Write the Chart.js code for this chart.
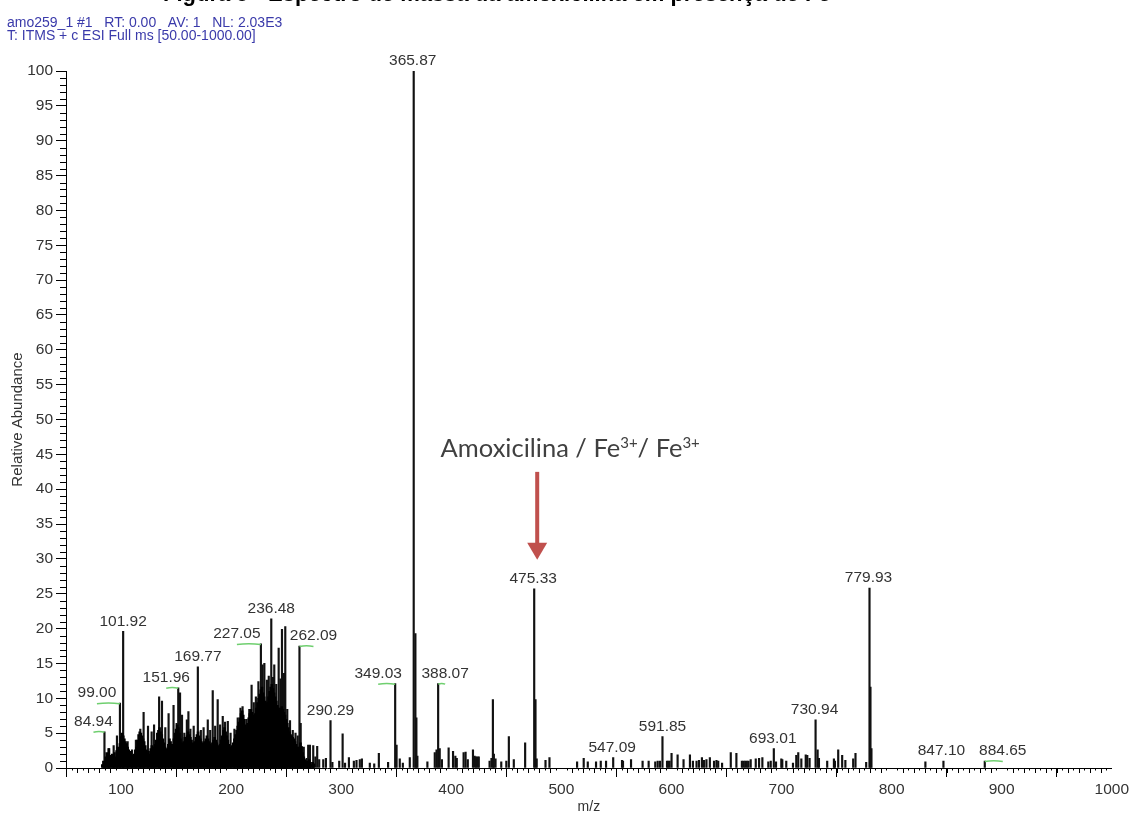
<!DOCTYPE html>
<html>
<head>
<meta charset="utf-8">
<title>amo259_1 - Full ms</title>
<script src="https://cdn.jsdelivr.net/npm/chart.js@4.4.1/dist/chart.umd.min.js"></script>
<style>
  html, body { margin: 0; padding: 0; background: #fff; }
  canvas { display: block; }
</style>
</head>
<body>
<canvas id="ms" width="1132" height="817"></canvas>
<script>
// ---- Spectrum data (m/z, relative abundance %) ----
// Unresolved baseline cluster, one value per nominal mass
const envelopeMz = [
  83,84,85,86,87,88,89,90,91,92,
  93,94,95,96,97,98,99,100,101,102,
  103,104,105,106,107,108,109,110,111,112,
  113,114,115,116,117,118,119,120,121,122,
  123,124,125,126,127,128,129,130,131,132,
  133,134,135,136,137,138,139,140,141,142,
  143,144,145,146,147,148,149,150,151,152,
  153,154,155,156,157,158,159,160,161,162,
  163,164,165,166,167,168,169,170,171,172,
  173,174,175,176,177,178,179,180,181,182,
  183,184,185,186,187,188,189,190,191,192,
  193,194,195,196,197,198,199,200,201,202,
  203,204,205,206,207,208,209,210,211,212,
  213,214,215,216,217,218,219,220,221,222,
  223,224,225,226,227,228,229,230,231,232,
  233,234,235,236,237,238,239,240,241,242,
  243,244,245,246,247,248,249,250,251,252,
  253,254,255,256,257,258,259,260,261,262,
  263,264,265,266,267,268,269,270,271,272,
  273,274,275
];
const envelopeAb = [
  0.5,1.0,0.8,1.6,2.2,1.0,2.8,1.8,1.5,2.0,
  1.4,2.2,1.6,2.5,3.0,2.4,3.5,4.5,5.0,4.6,
  4.2,3.8,3.5,3.0,2.6,2.0,2.4,1.8,1.5,2.0,
  2.6,3.0,4.0,4.8,5.2,5.0,4.6,4.2,3.8,3.2,
  2.6,2.0,2.4,2.0,2.8,3.2,3.0,2.6,3.4,4.0,
  5.0,5.4,5.8,5.2,4.8,4.2,3.6,3.0,2.4,2.8,
  3.4,4.2,3.8,3.4,3.0,4.2,5.0,5.6,6.2,5.8,
  5.0,4.2,3.6,3.4,3.8,4.4,4.0,4.6,5.2,4.8,
  4.4,4.0,3.6,3.4,3.8,4.4,4.8,5.2,4.6,4.2,
  3.8,3.6,3.4,3.8,4.2,4.6,4.2,3.8,3.4,3.2,
  3.6,4.0,4.4,4.0,3.6,3.2,3.0,3.4,4.0,4.6,
  5.4,5.8,5.2,4.6,4.0,3.4,3.0,2.8,3.2,3.6,
  4.2,4.8,5.4,6.0,6.6,7.2,7.8,8.2,7.6,7.0,
  6.2,5.8,6.4,7.2,7.8,8.4,8.0,7.6,7.4,7.8,
  8.6,9.4,10.0,10.6,11.2,11.6,10.8,10.2,9.6,9.0,
  9.4,10.2,11.0,11.6,12.0,11.4,10.8,10.2,9.6,9.0,
  8.6,8.2,8.6,8.8,8.4,8.0,7.6,7.0,6.4,5.8,
  5.2,4.8,4.6,4.4,4.2,3.8,3.4,3.0,2.6,3.0,
  3.6,3.0,2.2,1.6,1.2,0.9,1.0,0.6,1.2,0.8,
  0.5,0.8,0.6
];

// Individual centroided peaks
const peakMz = [
  84.94, 88.8, 93.3, 96.3, 99.00, 101.92, 106.0, 110.0, 113.5, 117.5,
  120.5, 124.5, 127.8, 130.0, 134.6, 137.2, 140.2, 143.2, 147.7, 150.5,
  151.96, 153.6, 155.4, 157.5, 159.8, 161.2, 163.0, 166.0, 169.77, 172.5,
  175.0, 178.8, 181.0, 183.3, 185.5, 187.8, 190.0, 192.4, 194.5, 197.0,
  199.5, 203.0, 206.0, 208.5, 210.4, 214.0, 216.5, 218.6, 220.6, 222.5,
  224.8, 227.05, 228.6, 230.2, 232.5, 234.2, 236.48, 238.0, 239.2, 241.0,
  243.2, 244.8, 246.2, 248.0, 249.2, 251.0, 253.5, 256.0, 258.5, 260.5,
  262.09, 263.2, 264.1, 266.0, 268.6, 270.0, 271.6, 274.6, 276.5, 278.2,
  280.0, 283.7, 286.1, 290.29, 292.0, 298.2, 301.3, 303.5, 307.0, 311.5,
  313.9, 316.9, 318.8, 326.0, 330.0, 334.2, 342.6, 349.03, 350.3, 353.2,
  356.0, 362.3, 365.87, 367.4, 368.3, 369.2, 378.3, 385.0, 386.6, 388.07,
  389.5, 391.5, 397.6, 401.6, 403.7, 405.0, 411.2, 413.0, 415.0, 419.7,
  421.2, 422.5, 423.8, 425.0, 434.8, 436.5, 437.8, 438.7, 440.2, 445.4,
  450.0, 452.3, 456.8, 467.1, 475.33, 476.5, 477.6, 485.6, 489.2, 514.3,
  520.3, 524.0, 531.5, 535.8, 540.6, 547.09, 555.1, 556.0, 563.3, 573.8,
  579.3, 585.3, 587.5, 589.6, 591.85, 596.0, 597.2, 598.3, 600.1, 605.6,
  611.0, 616.8, 619.5, 622.8, 625.0, 627.7, 629.6, 631.8, 634.9, 638.7,
  640.9, 642.5, 646.0, 653.9, 659.0, 664.0, 665.5, 667.0, 668.5, 670.0,
  672.0, 676.6, 679.6, 682.6, 688.0, 690.2, 693.01, 695.0, 699.8, 700.7,
  704.3, 710.4, 713.4, 715.2, 718.0, 722.0, 723.4, 725.5, 730.94, 732.8,
  734.0, 741.5, 747.6, 748.5, 751.5, 755.1, 758.0, 765.1, 767.2, 776.9,
  779.93, 780.8, 781.7, 830.7, 847.10, 884.65
];
const peakAb = [
  5.2, 2.8, 3.2, 4.6, 9.3, 19.6, 3.8, 2.6, 4.0, 5.6,
  8.0, 6.0, 5.2, 6.2, 10.2, 9.6, 5.8, 7.8, 9.0, 6.4,
  11.5, 10.8, 7.6, 5.0, 6.9, 8.1, 5.6, 6.0, 14.5, 5.4,
  5.8, 6.9, 5.4, 11.1, 6.0, 9.8, 6.2, 7.4, 6.6, 6.7,
  5.0, 5.6, 7.2, 8.6, 8.8, 7.0, 8.4, 11.9, 9.4, 10.2,
  12.4, 17.8, 14.8, 15.0, 12.6, 13.2, 21.4, 13.0, 14.8, 12.0,
  17.2, 12.8, 19.9, 13.6, 20.3, 8.4, 6.8, 5.4, 5.0, 4.6,
  17.5, 6.4, 3.1, 3.0, 1.4, 3.3, 3.3, 3.2, 1.6, 3.1,
  1.2, 1.2, 1.4, 6.8, 0.8, 1.0, 4.9, 0.7, 1.5, 1.0,
  1.1, 1.2, 1.3, 0.7, 0.6, 2.1, 0.8, 12.1, 3.3, 1.3,
  0.7, 1.5, 100, 19.3, 7.2, 1.7, 0.9, 2.2, 2.6, 12.1,
  2.8, 1.2, 2.9, 2.4, 1.7, 1.4, 2.2, 2.3, 1.2, 2.6,
  1.7, 1.6, 1.6, 1.6, 1.0, 1.4, 9.8, 2.0, 1.3, 0.9,
  1.0, 4.5, 1.2, 3.6, 25.7, 9.8, 1.3, 1.1, 1.5, 0.9,
  1.4, 0.9, 0.9, 1.0, 1.0, 1.5, 1.1, 1.0, 1.2, 1.0,
  1.0, 0.9, 1.0, 1.0, 4.5, 1.0, 1.0, 1.0, 2.1, 1.9,
  1.2, 1.9, 1.0, 1.0, 1.1, 1.5, 1.1, 1.2, 1.5, 1.0,
  1.1, 1.0, 0.7, 2.2, 2.1, 1.0, 1.0, 1.0, 1.0, 1.0,
  1.2, 1.3, 1.4, 1.5, 0.9, 1.0, 2.8, 0.9, 1.3, 1.2,
  1.0, 0.7, 1.8, 2.2, 1.3, 1.9, 1.8, 1.4, 6.9, 2.6,
  1.4, 1.0, 1.3, 1.0, 2.6, 1.8, 1.1, 1.3, 2.1, 0.8,
  25.8, 11.6, 2.8, 0.9, 1.0, 1.0
];

// Peaks annotated with their m/z
const labelMz = [
  84.94, 99.00, 101.92, 151.96, 169.77, 227.05, 236.48, 262.09, 290.29, 349.03,
  365.87, 388.07, 475.33, 547.09, 591.85, 693.01, 730.94, 779.93, 847.10, 884.65
];

const xTickValues = [100, 200, 300, 400, 500, 600, 700, 800, 900, 1000];
const yMajorStep = 5;

const headerLines = [
  'amo259_1 #1   RT: 0.00   AV: 1   NL: 2.03E3',
  'T: ITMS + c ESI Full ms [50.00-1000.00]'
];
const figureTitle = 'Figura 5 - Espectro de massa da amoxicilina em presença de Fe';
const annotationParts = ['Amoxicilina / Fe', '3+', '/ Fe', '3+'];

// ---- Drawing helpers ----
const decor = {
  id: 'msDecor',
  afterDraw(chart, args, o) {
    const { ctx, chartArea: a, scales: { x, y } } = chart;
    ctx.save();

    // minor ticks on both axes
    ctx.strokeStyle = '#000';
    ctx.lineWidth = 1;
    ctx.beginPath();
    for (let v = 1; v < 100; v++) {
      if (v % yMajorStep === 0) continue;
      const py = Math.round(y.getPixelForValue(v)) + 0.5;
      ctx.moveTo(a.left - 6, py);
      ctx.lineTo(a.left, py);
    }
    for (let v = 55; v < 1000; v += 5) {
      if (v % 100 === 0) continue;
      const px = Math.round(x.getPixelForValue(v)) + 0.5;
      const len = v % 10 === 0 ? 5 : 2.5;
      ctx.moveTo(px, a.bottom);
      ctx.lineTo(px, a.bottom + len);
    }
    ctx.stroke();

    // scan header
    ctx.fillStyle = '#3a3aaa';
    ctx.font = '14px "Liberation Sans", Arial, sans-serif';
    ctx.textAlign = 'left';
    ctx.textBaseline = 'alphabetic';
    ctx.fillText(headerLines[0], 7, 26.5);
    ctx.fillText(headerLines[1], 7, 39.5);

    // figure caption running off the top edge
    ctx.fillStyle = '#000';
    ctx.font = 'bold 22px "Liberation Sans", Arial, sans-serif';
    ctx.fillText(figureTitle, 163, 1);

    // peak m/z labels
    ctx.font = '15.5px "Liberation Sans", Arial, sans-serif';
    ctx.textAlign = 'center';
    ctx.textBaseline = 'middle';
    labelMz.forEach((m, i) => {
      const idx = peakMz.indexOf(m);
      if (idx < 0) return;
      const px = x.getPixelForValue(m);
      const py = y.getPixelForValue(peakAb[idx]);
      const lx = px + (o.offsets[i] || 0);
      if (o.flagged.includes(m)) {
        ctx.strokeStyle = '#6fcf6f';
        ctx.lineWidth = 1.5;
        ctx.beginPath();
        ctx.moveTo(lx, py + 0.5);
        ctx.quadraticCurveTo((lx + px) / 2, py - 1, px, py + 0.5);
        ctx.stroke();
      }
      ctx.fillStyle = '#333';
      ctx.fillText(m.toFixed(2), lx, py - 10);
    });

    // annotation with arrow pointing at the complex peak
    const an = o.annotation;
    const tIdx = peakMz.indexOf(an.mz);
    const tx = x.getPixelForValue(an.mz);
    const ty = y.getPixelForValue(peakAb[tIdx]);
    const ax = tx + an.dx;
    const tip = ty - an.gap;
    const top = tip - an.length;
    ctx.fillStyle = '#c0504d';
    ctx.fillRect(ax - 2, top, 4, an.length - 16);
    ctx.beginPath();
    ctx.moveTo(ax - 10, tip - 17);
    ctx.lineTo(ax + 10, tip - 17);
    ctx.lineTo(ax, tip);
    ctx.closePath();
    ctx.fill();

    const big = '25.5px Lato, "Open Sans", sans-serif';
    const small = '15px Lato, "Open Sans", sans-serif';
    const widths = annotationParts.map((p, i) => {
      ctx.font = i % 2 ? small : big;
      return ctx.measureText(p).width;
    });
    const total = widths.reduce((s, w) => s + w, 0);
    let cx = ax + an.textDx - total / 2;
    const base = top - an.textGap;
    ctx.fillStyle = '#404040';
    ctx.textAlign = 'left';
    ctx.textBaseline = 'alphabetic';
    annotationParts.forEach((p, i) => {
      ctx.font = i % 2 ? small : big;
      ctx.fillText(p, cx, i % 2 ? base - 9 : base);
      cx += widths[i];
    });

    ctx.restore();
  }
};

const toPoints = (xs, ys) => xs.map((m, i) => ({ x: m, y: ys[i] }));
const tickFont = { family: '"Liberation Sans", Arial, sans-serif', size: 15.5 };

new Chart(document.getElementById('ms'), {
  type: 'bar',
  data: {
    datasets: [
      {
        label: 'cluster',
        data: toPoints(envelopeMz, envelopeAb),
        backgroundColor: '#000',
        borderWidth: 0,
        barThickness: 2,
        grouped: false
      },
      {
        label: 'peaks',
        data: toPoints(peakMz, peakAb),
        backgroundColor: '#111',
        borderWidth: 0,
        barThickness: 1.5,
        grouped: false
      }
    ]
  },
  options: {
    responsive: false,
    animation: false,
    devicePixelRatio: 1,
    layout: { padding: { left: 0, right: 19, top: 71, bottom: 0 } },
    plugins: {
      legend: { display: false },
      tooltip: { enabled: false },
      msDecor: {
        offsets: [-11, -23, 0, -12, 0, -24, 0, 14, 0, -17, -1, 7, -1, -1, 0, -1, -1, -1, -2, 18],
        flagged: [84.94, 99.00, 151.96, 227.05, 262.09, 349.03, 388.07, 884.65],
        annotation: { mz: 475.33, dx: 3, gap: 29, length: 88, textDx: 33, textGap: 15 }
      }
    },
    scales: {
      x: {
        type: 'linear',
        min: 50,
        max: 1000,
        offset: false,
        afterBuildTicks: s => { s.ticks = xTickValues.map(v => ({ value: v })); },
        afterFit: s => { s.height = 49; },
        grid: { display: true, drawOnChartArea: false, drawTicks: true, tickLength: 9, color: '#000', tickColor: '#000' },
        border: { display: true, color: '#000', width: 1 },
        ticks: { font: tickFont, color: '#333', padding: 3, maxRotation: 0, autoSkip: false, callback: v => String(v) },
        title: { display: true, text: 'm/z', color: '#333', font: { family: '"Liberation Sans", Arial, sans-serif', size: 14 }, padding: { top: 0, bottom: 1 } }
      },
      y: {
        min: 0,
        max: 100,
        afterFit: s => { s.width = 66; },
        grid: { display: true, drawOnChartArea: false, drawTicks: true, tickLength: 10, color: '#000', tickColor: '#000' },
        border: { display: true, color: '#000', width: 1 },
        ticks: { stepSize: yMajorStep, font: tickFont, color: '#333', padding: 3 },
        title: { display: true, text: 'Relative Abundance', color: '#333', font: { family: '"Liberation Sans", Arial, sans-serif', size: 15 }, padding: { top: 8.5, bottom: 0 } }
      }
    }
  },
  plugins: [decor]
});
</script>
</body>
</html>
